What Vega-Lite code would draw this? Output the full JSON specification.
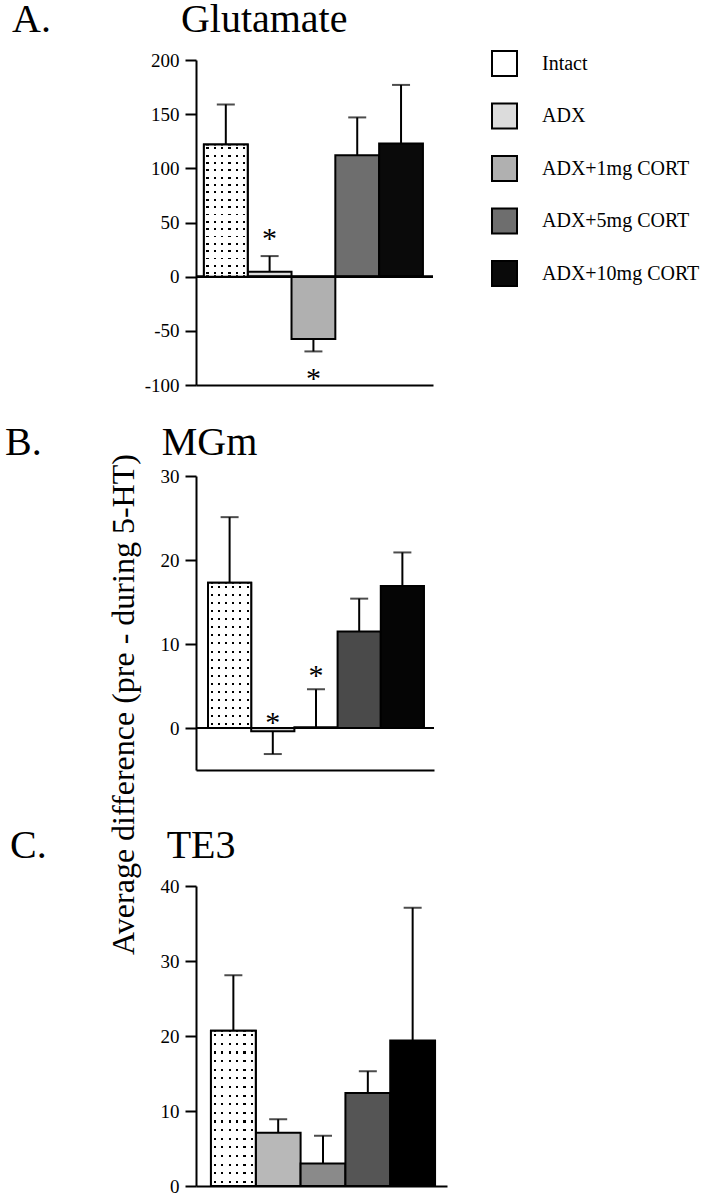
{
 "$schema": "https://vega.github.io/schema/vega-lite/v6.json",
 "padding": {"left": 5, "top": 0, "right": 0, "bottom": 0},
 "background": "white",
 "datasets": {"bars": [
  {"panel":"A","group":"Intact","value":122,"err":159,"star":null},
  {"panel":"A","group":"ADX","value":4.6,"err":19,"star":40},
  {"panel":"A","group":"ADX+1mg CORT","value":-57.6,"err":-69,"star":-89},
  {"panel":"A","group":"ADX+5mg CORT","value":112,"err":147,"star":null},
  {"panel":"A","group":"ADX+10mg CORT","value":123,"err":177,"star":null},
  {"panel":"B","group":"Intact","value":17.3,"err":25.1,"star":null},
  {"panel":"B","group":"ADX","value":-0.4,"err":-3.1,"star":1.3},
  {"panel":"B","group":"ADX+1mg CORT","value":0.1,"err":4.6,"star":6.9},
  {"panel":"B","group":"ADX+5mg CORT","value":11.5,"err":15.4,"star":null},
  {"panel":"B","group":"ADX+10mg CORT","value":16.9,"err":20.9,"star":null},
  {"panel":"C","group":"Intact","value":20.7,"err":28.1,"star":null},
  {"panel":"C","group":"ADX","value":7.1,"err":8.9,"star":null},
  {"panel":"C","group":"ADX+1mg CORT","value":3.0,"err":6.7,"star":null},
  {"panel":"C","group":"ADX+5mg CORT","value":12.4,"err":15.3,"star":null},
  {"panel":"C","group":"ADX+10mg CORT","value":19.4,"err":37.1,"star":null}
 ]},
 "config": {
  "view": {"stroke": null},
  "font": "Liberation Serif",
  "axis": {"domainColor":"black","domainWidth":2,"tickColor":"black","tickWidth":2,"tickSize":11,"labelFont":"Liberation Serif","labelFontSize":19,"labelColor":"black","labelPadding":6,"grid":false,"titleFont":"Liberation Serif","titleFontWeight":"normal","titleColor":"black","labelExpr":"'' + datum.value"},
  "title": {"font":"Liberation Serif","fontSize":40,"fontWeight":"normal","anchor":"start","frame":"group","color":"black","baseline":"alphabetic"}
 },
 "spacing": 91,
 "bounds": "flush",
 "resolve": {"scale": {"x":"independent","y":"independent","color":"independent"}, "legend": {"color":"independent"}},
 "vconcat": [
  {
   "data": {"name":"bars"},
   "transform": [{"filter":"datum.panel === 'A'"}],
   "width": 237, "height": 325,
   "title": {"text":"A.\u00a0\u00a0\u00a0\u00a0\u00a0\u00a0\u00a0\u00a0\u00a0\u00a0\u00a0\u00a0\u00a0Glutamate","dx":-184,"offset":10},
   "layer": [
    {"mark":{"type":"bar","stroke":"black","strokeWidth":2},
     "encoding":{
      "x":{"field":"group","type":"nominal","scale":{"domain":["Intact","ADX","ADX+1mg CORT","ADX+5mg CORT","ADX+10mg CORT"],"paddingInner":0,"paddingOuter":0.205,"align":0.44},"axis":{"labels":false,"ticks":false,"title":null}},
      "y":{"field":"value","type":"quantitative","scale":{"domain":[-100,200],"nice":false},"axis":{"values":[-100,-50,0,50,100,150,200],"title":"Average difference (pre - during 5-HT)","titleFontSize":32,"titleAngle":-90,"titleX":-63,"titleY":644,"titleAlign":"center","titleBaseline":"alphabetic"}},
      "color":{"field":"group","type":"nominal","scale":{"domain":["Intact","ADX","ADX+1mg CORT","ADX+5mg CORT","ADX+10mg CORT"],"range":["#ffffff","#dcdcdc","#b0b0b0","#6e6e6e","#0a0a0a"]},
       "legend":{"title":null,"orient":"none","legendX":295,"legendY":-10,"symbolType":"square","symbolSize":625,"symbolStrokeColor":"black","symbolStrokeWidth":2,"symbolOpacity":1,"labelFont":"Liberation Serif","labelFontSize":20,"labelColor":"black","labelOffset":24,"rowPadding":19.5,"padding":0,"labelLimit":300,
        "encode":{"symbols":{"update":{"stroke":{"value":"black"},"strokeWidth":{"value":2}}}}}}
     }},
    {"mark":{"type":"rule","color":"black","strokeWidth":2},"encoding":{"y":{"datum":0}}},
    {"transform":[{"filter":"datum.group === 'Intact'"}],"mark":{"type":"bar","strokeWidth":0,"fill":{"gradient":"linear","x1":0,"y1":0,"x2":0,"y2":1,"stops":[
    {"offset":0,"color":"rgba(0,0,0,0)"},
    {"offset":0.0222,"color":"rgba(0,0,0,0)"},{"offset":0.0222,"color":"#000"},{"offset":0.0361,"color":"#000"},{"offset":0.0361,"color":"rgba(0,0,0,0)"},
    {"offset":0.0778,"color":"rgba(0,0,0,0)"},{"offset":0.0778,"color":"#000"},{"offset":0.0917,"color":"#000"},{"offset":0.0917,"color":"rgba(0,0,0,0)"},
    {"offset":0.1333,"color":"rgba(0,0,0,0)"},{"offset":0.1333,"color":"#000"},{"offset":0.1472,"color":"#000"},{"offset":0.1472,"color":"rgba(0,0,0,0)"},
    {"offset":0.1889,"color":"rgba(0,0,0,0)"},{"offset":0.1889,"color":"#000"},{"offset":0.2028,"color":"#000"},{"offset":0.2028,"color":"rgba(0,0,0,0)"},
    {"offset":0.2444,"color":"rgba(0,0,0,0)"},{"offset":0.2444,"color":"#000"},{"offset":0.2583,"color":"#000"},{"offset":0.2583,"color":"rgba(0,0,0,0)"},
    {"offset":0.3,"color":"rgba(0,0,0,0)"},{"offset":0.3,"color":"#000"},{"offset":0.3139,"color":"#000"},{"offset":0.3139,"color":"rgba(0,0,0,0)"},
    {"offset":0.3556,"color":"rgba(0,0,0,0)"},{"offset":0.3556,"color":"#000"},{"offset":0.3694,"color":"#000"},{"offset":0.3694,"color":"rgba(0,0,0,0)"},
    {"offset":0.4111,"color":"rgba(0,0,0,0)"},{"offset":0.4111,"color":"#000"},{"offset":0.425,"color":"#000"},{"offset":0.425,"color":"rgba(0,0,0,0)"},
    {"offset":0.4667,"color":"rgba(0,0,0,0)"},{"offset":0.4667,"color":"#000"},{"offset":0.4806,"color":"#000"},{"offset":0.4806,"color":"rgba(0,0,0,0)"},
    {"offset":0.5222,"color":"rgba(0,0,0,0)"},{"offset":0.5222,"color":"#000"},{"offset":0.5361,"color":"#000"},{"offset":0.5361,"color":"rgba(0,0,0,0)"},
    {"offset":0.5778,"color":"rgba(0,0,0,0)"},{"offset":0.5778,"color":"#000"},{"offset":0.5917,"color":"#000"},{"offset":0.5917,"color":"rgba(0,0,0,0)"},
    {"offset":0.6333,"color":"rgba(0,0,0,0)"},{"offset":0.6333,"color":"#000"},{"offset":0.6472,"color":"#000"},{"offset":0.6472,"color":"rgba(0,0,0,0)"},
    {"offset":0.6889,"color":"rgba(0,0,0,0)"},{"offset":0.6889,"color":"#000"},{"offset":0.7028,"color":"#000"},{"offset":0.7028,"color":"rgba(0,0,0,0)"},
    {"offset":0.7444,"color":"rgba(0,0,0,0)"},{"offset":0.7444,"color":"#000"},{"offset":0.7583,"color":"#000"},{"offset":0.7583,"color":"rgba(0,0,0,0)"},
    {"offset":0.8,"color":"rgba(0,0,0,0)"},{"offset":0.8,"color":"#000"},{"offset":0.8139,"color":"#000"},{"offset":0.8139,"color":"rgba(0,0,0,0)"},
    {"offset":0.8556,"color":"rgba(0,0,0,0)"},{"offset":0.8556,"color":"#000"},{"offset":0.8694,"color":"#000"},{"offset":0.8694,"color":"rgba(0,0,0,0)"},
    {"offset":0.9111,"color":"rgba(0,0,0,0)"},{"offset":0.9111,"color":"#000"},{"offset":0.925,"color":"#000"},{"offset":0.925,"color":"rgba(0,0,0,0)"},
    {"offset":0.9667,"color":"rgba(0,0,0,0)"},{"offset":0.9667,"color":"#000"},{"offset":0.9806,"color":"#000"},{"offset":0.9806,"color":"rgba(0,0,0,0)"},
    {"offset":1,"color":"rgba(0,0,0,0)"}]}},"encoding":{"x":{"field":"group","type":"nominal"},"y":{"field":"value","type":"quantitative"}}},
    {"transform":[{"filter":"datum.group === 'Intact'"}],"mark":{"type":"bar","strokeWidth":0,"fill":{"gradient":"linear","x1":0,"y1":0,"x2":1,"y2":0,"stops":[
    {"offset":0,"color":"#fff"},
    {"offset":0.0583,"color":"#fff"},{"offset":0.0583,"color":"rgba(255,255,255,0)"},{"offset":0.1083,"color":"rgba(255,255,255,0)"},{"offset":0.1083,"color":"#fff"},
    {"offset":0.225,"color":"#fff"},{"offset":0.225,"color":"rgba(255,255,255,0)"},{"offset":0.275,"color":"rgba(255,255,255,0)"},{"offset":0.275,"color":"#fff"},
    {"offset":0.3917,"color":"#fff"},{"offset":0.3917,"color":"rgba(255,255,255,0)"},{"offset":0.4417,"color":"rgba(255,255,255,0)"},{"offset":0.4417,"color":"#fff"},
    {"offset":0.5583,"color":"#fff"},{"offset":0.5583,"color":"rgba(255,255,255,0)"},{"offset":0.6083,"color":"rgba(255,255,255,0)"},{"offset":0.6083,"color":"#fff"},
    {"offset":0.725,"color":"#fff"},{"offset":0.725,"color":"rgba(255,255,255,0)"},{"offset":0.775,"color":"rgba(255,255,255,0)"},{"offset":0.775,"color":"#fff"},
    {"offset":0.8917,"color":"#fff"},{"offset":0.8917,"color":"rgba(255,255,255,0)"},{"offset":0.9417,"color":"rgba(255,255,255,0)"},{"offset":0.9417,"color":"#fff"},
    {"offset":1,"color":"#fff"}]}},"encoding":{"x":{"field":"group","type":"nominal"},"y":{"field":"value","type":"quantitative"}}},
    {"transform":[{"filter":"datum.group === 'Intact'"}],"mark":{"type":"bar","fill":"white","fillOpacity":0,"stroke":"black","strokeWidth":2},"encoding":{"x":{"field":"group","type":"nominal"},"y":{"field":"value","type":"quantitative"}}},
    {"mark":{"type":"rule","color":"black","strokeWidth":2},"encoding":{"x":{"field":"group","type":"nominal"},"y":{"field":"value","type":"quantitative"},"y2":{"field":"err"}}},
    {"mark":{"type":"tick","orient":"horizontal","size":18,"thickness":2,"color":"black"},"encoding":{"x":{"field":"group","type":"nominal"},"y":{"field":"err","type":"quantitative"}}},
    {"transform":[{"filter":"isValid(datum.star)"}],"mark":{"type":"text","text":"*","fontSize":30,"font":"Liberation Serif","baseline":"alphabetic","dy":15,"color":"black"},"encoding":{"x":{"field":"group","type":"nominal"},"y":{"field":"star","type":"quantitative"}}}
   ]
  },
  {
   "spacing": 116,
   "bounds": "flush",
   "resolve": {"scale": {"x":"independent","y":"independent","color":"independent"}, "legend": {"color":"independent"}},
   "vconcat": [
    {
     "data": {"name":"bars"},
     "transform": [{"filter":"datum.panel === 'B'"}],
     "width": 238, "height": 294,
     "title": {"text":"B.\u00a0\u00a0\u00a0\u00a0\u00a0\u00a0\u00a0\u00a0\u00a0\u00a0\u00a0\u00a0MGm","dx":-191,"offset":4},
     "layer": [
      {"mark":{"type":"bar","stroke":"black","strokeWidth":2},
       "encoding":{
        "x":{"field":"group","type":"nominal","scale":{"domain":["Intact","ADX","ADX+1mg CORT","ADX+5mg CORT","ADX+10mg CORT"],"paddingInner":0,"paddingOuter":0.255,"align":0.545},"axis":{"labels":false,"ticks":false,"title":null}},
        "y":{"field":"value","type":"quantitative","scale":{"domain":[-5,30],"nice":false},"axis":{"values":[0,10,20,30],"title":null}},
        "color":{"field":"group","type":"nominal","scale":{"domain":["Intact","ADX","ADX+1mg CORT","ADX+5mg CORT","ADX+10mg CORT"],"range":["#ffffff","#d8d8d8","#b0b0b0","#4a4a4a","#050505"]},"legend":null}
       }},
      {"mark":{"type":"rule","color":"black","strokeWidth":2},"encoding":{"y":{"datum":0}}},
      {"transform":[{"filter":"datum.group === 'Intact'"}],"mark":{"type":"bar","strokeWidth":0,"fill":{"gradient":"linear","x1":0,"y1":0,"x2":0,"y2":1,"stops":[
    {"offset":0,"color":"rgba(0,0,0,0)"},
    {"offset":0.0222,"color":"rgba(0,0,0,0)"},{"offset":0.0222,"color":"#000"},{"offset":0.0361,"color":"#000"},{"offset":0.0361,"color":"rgba(0,0,0,0)"},
    {"offset":0.0778,"color":"rgba(0,0,0,0)"},{"offset":0.0778,"color":"#000"},{"offset":0.0917,"color":"#000"},{"offset":0.0917,"color":"rgba(0,0,0,0)"},
    {"offset":0.1333,"color":"rgba(0,0,0,0)"},{"offset":0.1333,"color":"#000"},{"offset":0.1472,"color":"#000"},{"offset":0.1472,"color":"rgba(0,0,0,0)"},
    {"offset":0.1889,"color":"rgba(0,0,0,0)"},{"offset":0.1889,"color":"#000"},{"offset":0.2028,"color":"#000"},{"offset":0.2028,"color":"rgba(0,0,0,0)"},
    {"offset":0.2444,"color":"rgba(0,0,0,0)"},{"offset":0.2444,"color":"#000"},{"offset":0.2583,"color":"#000"},{"offset":0.2583,"color":"rgba(0,0,0,0)"},
    {"offset":0.3,"color":"rgba(0,0,0,0)"},{"offset":0.3,"color":"#000"},{"offset":0.3139,"color":"#000"},{"offset":0.3139,"color":"rgba(0,0,0,0)"},
    {"offset":0.3556,"color":"rgba(0,0,0,0)"},{"offset":0.3556,"color":"#000"},{"offset":0.3694,"color":"#000"},{"offset":0.3694,"color":"rgba(0,0,0,0)"},
    {"offset":0.4111,"color":"rgba(0,0,0,0)"},{"offset":0.4111,"color":"#000"},{"offset":0.425,"color":"#000"},{"offset":0.425,"color":"rgba(0,0,0,0)"},
    {"offset":0.4667,"color":"rgba(0,0,0,0)"},{"offset":0.4667,"color":"#000"},{"offset":0.4806,"color":"#000"},{"offset":0.4806,"color":"rgba(0,0,0,0)"},
    {"offset":0.5222,"color":"rgba(0,0,0,0)"},{"offset":0.5222,"color":"#000"},{"offset":0.5361,"color":"#000"},{"offset":0.5361,"color":"rgba(0,0,0,0)"},
    {"offset":0.5778,"color":"rgba(0,0,0,0)"},{"offset":0.5778,"color":"#000"},{"offset":0.5917,"color":"#000"},{"offset":0.5917,"color":"rgba(0,0,0,0)"},
    {"offset":0.6333,"color":"rgba(0,0,0,0)"},{"offset":0.6333,"color":"#000"},{"offset":0.6472,"color":"#000"},{"offset":0.6472,"color":"rgba(0,0,0,0)"},
    {"offset":0.6889,"color":"rgba(0,0,0,0)"},{"offset":0.6889,"color":"#000"},{"offset":0.7028,"color":"#000"},{"offset":0.7028,"color":"rgba(0,0,0,0)"},
    {"offset":0.7444,"color":"rgba(0,0,0,0)"},{"offset":0.7444,"color":"#000"},{"offset":0.7583,"color":"#000"},{"offset":0.7583,"color":"rgba(0,0,0,0)"},
    {"offset":0.8,"color":"rgba(0,0,0,0)"},{"offset":0.8,"color":"#000"},{"offset":0.8139,"color":"#000"},{"offset":0.8139,"color":"rgba(0,0,0,0)"},
    {"offset":0.8556,"color":"rgba(0,0,0,0)"},{"offset":0.8556,"color":"#000"},{"offset":0.8694,"color":"#000"},{"offset":0.8694,"color":"rgba(0,0,0,0)"},
    {"offset":0.9111,"color":"rgba(0,0,0,0)"},{"offset":0.9111,"color":"#000"},{"offset":0.925,"color":"#000"},{"offset":0.925,"color":"rgba(0,0,0,0)"},
    {"offset":0.9667,"color":"rgba(0,0,0,0)"},{"offset":0.9667,"color":"#000"},{"offset":0.9806,"color":"#000"},{"offset":0.9806,"color":"rgba(0,0,0,0)"},
    {"offset":1,"color":"rgba(0,0,0,0)"}]}},"encoding":{"x":{"field":"group","type":"nominal"},"y":{"field":"value","type":"quantitative"}}},
      {"transform":[{"filter":"datum.group === 'Intact'"}],"mark":{"type":"bar","strokeWidth":0,"fill":{"gradient":"linear","x1":0,"y1":0,"x2":1,"y2":0,"stops":[
    {"offset":0,"color":"#fff"},
    {"offset":0.0583,"color":"#fff"},{"offset":0.0583,"color":"rgba(255,255,255,0)"},{"offset":0.1083,"color":"rgba(255,255,255,0)"},{"offset":0.1083,"color":"#fff"},
    {"offset":0.225,"color":"#fff"},{"offset":0.225,"color":"rgba(255,255,255,0)"},{"offset":0.275,"color":"rgba(255,255,255,0)"},{"offset":0.275,"color":"#fff"},
    {"offset":0.3917,"color":"#fff"},{"offset":0.3917,"color":"rgba(255,255,255,0)"},{"offset":0.4417,"color":"rgba(255,255,255,0)"},{"offset":0.4417,"color":"#fff"},
    {"offset":0.5583,"color":"#fff"},{"offset":0.5583,"color":"rgba(255,255,255,0)"},{"offset":0.6083,"color":"rgba(255,255,255,0)"},{"offset":0.6083,"color":"#fff"},
    {"offset":0.725,"color":"#fff"},{"offset":0.725,"color":"rgba(255,255,255,0)"},{"offset":0.775,"color":"rgba(255,255,255,0)"},{"offset":0.775,"color":"#fff"},
    {"offset":0.8917,"color":"#fff"},{"offset":0.8917,"color":"rgba(255,255,255,0)"},{"offset":0.9417,"color":"rgba(255,255,255,0)"},{"offset":0.9417,"color":"#fff"},
    {"offset":1,"color":"#fff"}]}},"encoding":{"x":{"field":"group","type":"nominal"},"y":{"field":"value","type":"quantitative"}}},
      {"transform":[{"filter":"datum.group === 'Intact'"}],"mark":{"type":"bar","fill":"white","fillOpacity":0,"stroke":"black","strokeWidth":2},"encoding":{"x":{"field":"group","type":"nominal"},"y":{"field":"value","type":"quantitative"}}},
      {"mark":{"type":"rule","color":"black","strokeWidth":2},"encoding":{"x":{"field":"group","type":"nominal"},"y":{"field":"value","type":"quantitative"},"y2":{"field":"err"}}},
      {"mark":{"type":"tick","orient":"horizontal","size":18,"thickness":2,"color":"black"},"encoding":{"x":{"field":"group","type":"nominal"},"y":{"field":"err","type":"quantitative"}}},
      {"transform":[{"filter":"isValid(datum.star)"}],"mark":{"type":"text","text":"*","fontSize":30,"font":"Liberation Serif","baseline":"alphabetic","dy":15,"color":"black"},"encoding":{"x":{"field":"group","type":"nominal"},"y":{"field":"star","type":"quantitative"}}}
     ]
    },
    {
     "data": {"name":"bars"},
     "transform": [{"filter":"datum.panel === 'C'"}],
     "width": 251, "height": 300,
     "title": {"text":"C.\u00a0\u00a0\u00a0\u00a0\u00a0\u00a0\u00a0\u00a0\u00a0\u00a0\u00a0\u00a0TE3","dx":-186,"offset":11},
     "layer": [
      {"mark":{"type":"bar","stroke":"black","strokeWidth":2},
       "encoding":{
        "x":{"field":"group","type":"nominal","scale":{"domain":["Intact","ADX","ADX+1mg CORT","ADX+5mg CORT","ADX+10mg CORT"],"paddingInner":0,"paddingOuter":0.30,"align":0.556},"axis":{"labels":false,"ticks":false,"title":null}},
        "y":{"field":"value","type":"quantitative","scale":{"domain":[0,40],"nice":false},"axis":{"values":[0,10,20,30,40],"title":null}},
        "color":{"field":"group","type":"nominal","scale":{"domain":["Intact","ADX","ADX+1mg CORT","ADX+5mg CORT","ADX+10mg CORT"],"range":["#ffffff","#b8b8b8","#8a8a8a","#555555","#000000"]},"legend":null}
       }},
      {"transform":[{"filter":"datum.group === 'Intact'"}],"mark":{"type":"bar","strokeWidth":0,"fill":{"gradient":"linear","x1":0,"y1":0,"x2":0,"y2":1,"stops":[
    {"offset":0,"color":"rgba(0,0,0,0)"},
    {"offset":0.0222,"color":"rgba(0,0,0,0)"},{"offset":0.0222,"color":"#000"},{"offset":0.0361,"color":"#000"},{"offset":0.0361,"color":"rgba(0,0,0,0)"},
    {"offset":0.0778,"color":"rgba(0,0,0,0)"},{"offset":0.0778,"color":"#000"},{"offset":0.0917,"color":"#000"},{"offset":0.0917,"color":"rgba(0,0,0,0)"},
    {"offset":0.1333,"color":"rgba(0,0,0,0)"},{"offset":0.1333,"color":"#000"},{"offset":0.1472,"color":"#000"},{"offset":0.1472,"color":"rgba(0,0,0,0)"},
    {"offset":0.1889,"color":"rgba(0,0,0,0)"},{"offset":0.1889,"color":"#000"},{"offset":0.2028,"color":"#000"},{"offset":0.2028,"color":"rgba(0,0,0,0)"},
    {"offset":0.2444,"color":"rgba(0,0,0,0)"},{"offset":0.2444,"color":"#000"},{"offset":0.2583,"color":"#000"},{"offset":0.2583,"color":"rgba(0,0,0,0)"},
    {"offset":0.3,"color":"rgba(0,0,0,0)"},{"offset":0.3,"color":"#000"},{"offset":0.3139,"color":"#000"},{"offset":0.3139,"color":"rgba(0,0,0,0)"},
    {"offset":0.3556,"color":"rgba(0,0,0,0)"},{"offset":0.3556,"color":"#000"},{"offset":0.3694,"color":"#000"},{"offset":0.3694,"color":"rgba(0,0,0,0)"},
    {"offset":0.4111,"color":"rgba(0,0,0,0)"},{"offset":0.4111,"color":"#000"},{"offset":0.425,"color":"#000"},{"offset":0.425,"color":"rgba(0,0,0,0)"},
    {"offset":0.4667,"color":"rgba(0,0,0,0)"},{"offset":0.4667,"color":"#000"},{"offset":0.4806,"color":"#000"},{"offset":0.4806,"color":"rgba(0,0,0,0)"},
    {"offset":0.5222,"color":"rgba(0,0,0,0)"},{"offset":0.5222,"color":"#000"},{"offset":0.5361,"color":"#000"},{"offset":0.5361,"color":"rgba(0,0,0,0)"},
    {"offset":0.5778,"color":"rgba(0,0,0,0)"},{"offset":0.5778,"color":"#000"},{"offset":0.5917,"color":"#000"},{"offset":0.5917,"color":"rgba(0,0,0,0)"},
    {"offset":0.6333,"color":"rgba(0,0,0,0)"},{"offset":0.6333,"color":"#000"},{"offset":0.6472,"color":"#000"},{"offset":0.6472,"color":"rgba(0,0,0,0)"},
    {"offset":0.6889,"color":"rgba(0,0,0,0)"},{"offset":0.6889,"color":"#000"},{"offset":0.7028,"color":"#000"},{"offset":0.7028,"color":"rgba(0,0,0,0)"},
    {"offset":0.7444,"color":"rgba(0,0,0,0)"},{"offset":0.7444,"color":"#000"},{"offset":0.7583,"color":"#000"},{"offset":0.7583,"color":"rgba(0,0,0,0)"},
    {"offset":0.8,"color":"rgba(0,0,0,0)"},{"offset":0.8,"color":"#000"},{"offset":0.8139,"color":"#000"},{"offset":0.8139,"color":"rgba(0,0,0,0)"},
    {"offset":0.8556,"color":"rgba(0,0,0,0)"},{"offset":0.8556,"color":"#000"},{"offset":0.8694,"color":"#000"},{"offset":0.8694,"color":"rgba(0,0,0,0)"},
    {"offset":0.9111,"color":"rgba(0,0,0,0)"},{"offset":0.9111,"color":"#000"},{"offset":0.925,"color":"#000"},{"offset":0.925,"color":"rgba(0,0,0,0)"},
    {"offset":0.9667,"color":"rgba(0,0,0,0)"},{"offset":0.9667,"color":"#000"},{"offset":0.9806,"color":"#000"},{"offset":0.9806,"color":"rgba(0,0,0,0)"},
    {"offset":1,"color":"rgba(0,0,0,0)"}]}},"encoding":{"x":{"field":"group","type":"nominal"},"y":{"field":"value","type":"quantitative"}}},
      {"transform":[{"filter":"datum.group === 'Intact'"}],"mark":{"type":"bar","strokeWidth":0,"fill":{"gradient":"linear","x1":0,"y1":0,"x2":1,"y2":0,"stops":[
    {"offset":0,"color":"#fff"},
    {"offset":0.0583,"color":"#fff"},{"offset":0.0583,"color":"rgba(255,255,255,0)"},{"offset":0.1083,"color":"rgba(255,255,255,0)"},{"offset":0.1083,"color":"#fff"},
    {"offset":0.225,"color":"#fff"},{"offset":0.225,"color":"rgba(255,255,255,0)"},{"offset":0.275,"color":"rgba(255,255,255,0)"},{"offset":0.275,"color":"#fff"},
    {"offset":0.3917,"color":"#fff"},{"offset":0.3917,"color":"rgba(255,255,255,0)"},{"offset":0.4417,"color":"rgba(255,255,255,0)"},{"offset":0.4417,"color":"#fff"},
    {"offset":0.5583,"color":"#fff"},{"offset":0.5583,"color":"rgba(255,255,255,0)"},{"offset":0.6083,"color":"rgba(255,255,255,0)"},{"offset":0.6083,"color":"#fff"},
    {"offset":0.725,"color":"#fff"},{"offset":0.725,"color":"rgba(255,255,255,0)"},{"offset":0.775,"color":"rgba(255,255,255,0)"},{"offset":0.775,"color":"#fff"},
    {"offset":0.8917,"color":"#fff"},{"offset":0.8917,"color":"rgba(255,255,255,0)"},{"offset":0.9417,"color":"rgba(255,255,255,0)"},{"offset":0.9417,"color":"#fff"},
    {"offset":1,"color":"#fff"}]}},"encoding":{"x":{"field":"group","type":"nominal"},"y":{"field":"value","type":"quantitative"}}},
      {"transform":[{"filter":"datum.group === 'Intact'"}],"mark":{"type":"bar","fill":"white","fillOpacity":0,"stroke":"black","strokeWidth":2},"encoding":{"x":{"field":"group","type":"nominal"},"y":{"field":"value","type":"quantitative"}}},
      {"mark":{"type":"rule","color":"black","strokeWidth":2},"encoding":{"x":{"field":"group","type":"nominal"},"y":{"field":"value","type":"quantitative"},"y2":{"field":"err"}}},
      {"mark":{"type":"tick","orient":"horizontal","size":18,"thickness":2,"color":"black"},"encoding":{"x":{"field":"group","type":"nominal"},"y":{"field":"err","type":"quantitative"}}}
     ]
    }
   ]
  }
 ]
}
